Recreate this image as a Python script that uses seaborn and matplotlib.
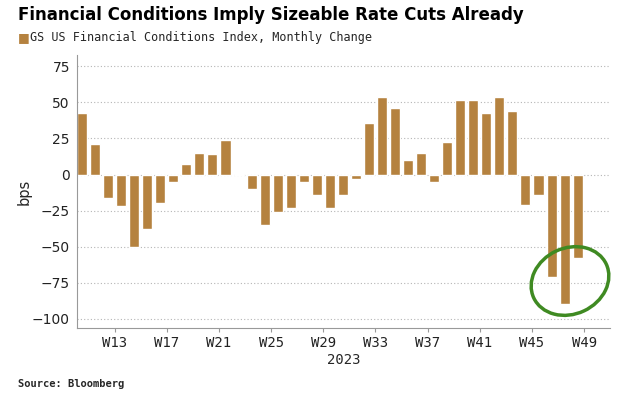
import numpy as np
import pandas as pd
import seaborn as sns
import matplotlib.pyplot as plt
from matplotlib.patches import Ellipse
from matplotlib.transforms import IdentityTransform

# weekly bars, 2023
weeks = list(range(10, 49))
change_bps = [43, 21, -16, -22, -50, -37.5, -20, -5, 7.6, 14.8,
              13.9, 24, 0.7, -10, -35, -26, -23, -5, -14, -23,
              -14, -3, 36, 54, 46, 10, 15, -5, 22.7, 52,
              52, 43, 54, 44, -21, -14, -71, -89.6, -58]
tick_weeks = [13, 17, 21, 25, 29, 33, 37, 41, 45, 49]
tick_labels = ["W%d" % w for w in tick_weeks]

df = pd.DataFrame({"week": weeks, "bps": change_bps})

bar_color = "#B5823F"
mono = "DejaVu Sans Mono"

sns.set_style("white")
plt.rcParams["font.family"] = ["DejaVu Sans"]

fig = plt.figure(figsize=(6.35, 3.98), dpi=100)
ax = fig.add_axes([0.121, 0.176, 0.84, 0.686])

sns.barplot(data=df, x="week", y="bps", native_scale=True, color=bar_color,
            saturation=1, width=0.77, ax=ax)

ax.set_xlim(9.6, 50.5)
ax.set_ylim(-106.5, 83)
ax.set_yticks([75, 50, 25, 0, -25, -50, -75, -100])
ax.set_xticks([w - 0.5 for w in tick_weeks])
ax.set_xticklabels(tick_labels, fontfamily=mono)
ax.tick_params(axis="y", labelsize=10, colors="#222222", length=0, pad=5)
ax.tick_params(axis="x", labelsize=10, labelcolor="#222222", length=3,
               color="#999999", bottom=True, pad=3)
ax.set_xlabel("2023", fontsize=10, labelpad=2, fontfamily=mono)
ax.set_ylabel("bps", fontsize=10.5)
ax.yaxis.set_label_coords(-0.084, 0.5)

ax.yaxis.grid(True, linestyle=(0, (1, 2)), color="#b5b5b5", linewidth=0.8)
ax.set_axisbelow(True)
for s in ["top", "right"]:
    ax.spines[s].set_visible(False)
for s in ["left", "bottom"]:
    ax.spines[s].set_color("#999999")
    ax.spines[s].set_linewidth(0.8)

# green highlight circle
circle = Ellipse((570, 398 - 281), 80, 66, angle=25, fill=False,
                 edgecolor="#3f8a22", linewidth=2.5, transform=IdentityTransform())
fig.patches.append(circle)

fig.text(0.028, 0.962, "Financial Conditions Imply Sizeable Rate Cuts Already",
         fontsize=12, fontweight="bold", va="center", ha="left", color="black")
fig.text(0.028, 0.905, "\u25A0", color=bar_color, fontsize=9, va="center", ha="left")
fig.text(0.047, 0.905, "GS US Financial Conditions Index, Monthly Change",
         fontsize=8.5, va="center", ha="left", fontfamily=mono)
fig.text(0.028, 0.035, "Source: Bloomberg", fontsize=7.5, fontweight="bold",
         va="center", ha="left", fontfamily=mono)

fig.savefig("out.png", dpi=100)
